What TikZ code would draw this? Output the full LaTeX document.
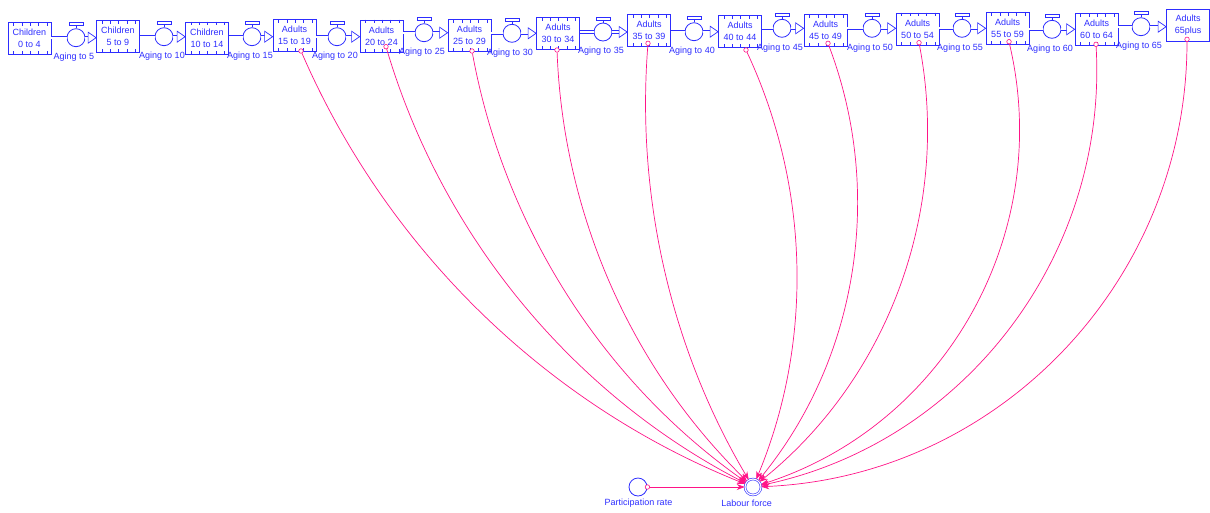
\documentclass[tikz,border=0pt]{standalone}
\usepackage{fontspec}
\setmainfont{Liberation Sans}
\usetikzlibrary{calc,arrows.meta}
\definecolor{vblue}{RGB}{45,45,255}
\definecolor{vpink}{RGB}{255,20,135}
\newcommand\stockticks[1]{%
  \foreach \dx in {6,14.3,22.6,30.9,39.2}{%
    \draw[vblue, line width=0.6pt] ($(#1.north west)+(\dx,0)$) -- ++(0,3.5);
    \draw[vblue, line width=0.6pt] ($(#1.south west)+(\dx,0)$) -- ++(0,-3.5);
  }}
\begin{document}
\begin{tikzpicture}[x=1pt,y=-1pt,
  font=\fontsize{9}{12}\selectfont,
  stock/.style={draw=vblue, line width=0.8pt, minimum width=43pt, minimum height=32pt, inner sep=0pt, text=vblue, align=center, fill=white},
  valve/.style={draw=vblue, line width=0.8pt, circle, minimum size=18pt, inner sep=0pt, fill=white},
  pipe/.style={draw=vblue, double=white, double distance=2pt, line width=0.7pt},
  flowlab/.style={text=vblue, inner sep=0pt},
  conn/.style={draw=vpink, line width=0.7pt},
  ctip/.style={-{Stealth[length=8pt,width=6pt]}},
  linkdot/.style={draw=vpink, circle, minimum size=4.5pt, inner sep=0pt, line width=0.6pt, fill=white},
  aux/.style={draw=vblue, line width=0.8pt, circle, minimum size=18pt, inner sep=0pt, fill=white}
]
\useasboundingbox (0,0) rectangle (1210,512);

% stocks
\node[stock] (b1) at (29.5,38.5) {Children\\0 to 4};
\node[stock] (b2) at (118,36.5) {Children\\5 to 9};
\node[stock] (b3) at (207,38) {Children\\10 to 14};
\node[stock] (b4) at (294.5,35.5) {Adults\\15 to 19};
\node[stock] (b5) at (381.5,36) {Adults\\20 to 24};
\node[stock] (b6) at (469.5,35.5) {Adults\\25 to 29};
\node[stock] (b7) at (558,33.5) {Adults\\30 to 34};
\node[stock] (b8) at (649,30.5) {Adults\\35 to 39};
\node[stock] (b9) at (740,31.5) {Adults\\40 to 44};
\node[stock] (b10) at (825.5,30.5) {Adults\\45 to 49};
\node[stock] (b11) at (917.5,29) {Adults\\50 to 54};
\node[stock] (b12) at (1007.5,28.5) {Adults\\55 to 59};
\node[stock] (b13) at (1096.5,29.5) {Adults\\60 to 64};
\node[stock] (b14) at (1188,25.5) {Adults\\65plus};
\foreach \i in {1,...,13}{\stockticks{b\i}}

% flows
\foreach \i/\x/\y/\n [evaluate=\i as \j using int(\i+1)] in
  {1/76/37.7/5, 2/164/36.7/10, 3/252/36.7/15, 4/337/36.7/20, 5/424/32.7/25,
   6/512/33.3/30, 7/603/32/35, 8/694/31.7/40, 9/782/28.3/45, 10/872/28.3/50,
   11/962/28.3/55, 12/1052/29.3/60, 13/1141/26.7/65}{
  \node[valve] (v\i) at (\x,\y) {};
  \draw[pipe] (b\i.east |- v\i) -- (v\i.west);
  \draw[pipe] (v\i.east) -- ($(b\j.west |- v\i)+(-8,0)$);
  \draw[vblue, line width=0.7pt, fill=white, line join=miter] (b\j.west |- v\i) -- ++(-8,-5.5) -- ++(0,11) -- cycle;
  \draw[vblue, line width=0.7pt] (v\i.north) -- ++(0,-2.5);
  \draw[vblue, line width=0.7pt, fill=white] ($(v\i.north)+(-7,-2.5)$) rectangle ++(14,-3);
  \node[flowlab] (lab\i) at ($(v\i)+(-2,19.5)$) {Aging to \n};
}

% auxiliaries
\node[aux, double=white, double distance=1.2pt, line width=0.6pt, minimum size=16pt] (lf) at (753,487) {};
\node[flowlab] (lflab) at (746.7,503.5) {Labour force};
\node[aux] (pr) at (638,487) {};
\node[flowlab] (prlab) at (638.5,503.5) {Participation rate};
\node[linkdot] (opr) at (pr.east) {};
\draw[conn, ctip] (opr) -- (lf);

% links (circular arcs: signed bend angle, looseness)
\foreach \i/\sx/\sy/\ang/\loose in
  {4/301/51/-22.4/0.885, 5/386/46.7/-23.1/0.887, 6/472/51/-22.2/0.884,
   7/557/50/-21.7/0.883, 8/648/43.3/-17.6/0.872, 9/746/50/23.8/0.889,
   10/828/43.3/30.0/0.912, 11/919/42.7/31.0/0.917, 12/1009/41.7/42.7/0.982,
   13/1096/44.3/40.6/0.968, 14/1187/39.3/43.8/0.989}{
  \node[linkdot] (o\i) at (\sx,\sy) {};
  \draw[conn, ctip] (o\i) to[bend left=\ang, looseness=\loose] (lf);
}
\end{tikzpicture}
\end{document}
